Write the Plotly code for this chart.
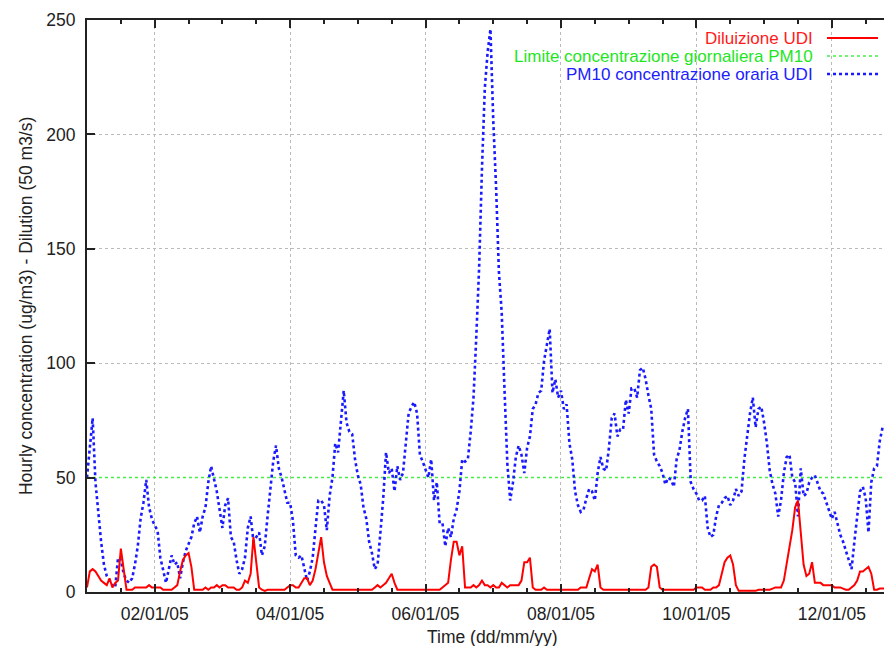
import pandas as pd
import plotly.graph_objects as go

START = "2005-01-01 00:00"
X_END = "2005-01-12 18:30"

# PM10 hourly concentration (ug/m3), one row per day
pm10_udi = [
    50, 62, 76, 48, 34, 22, 12, 7, 5, 3, 2, 15, 14, 8, 5, 4, 6, 12, 20, 32, 39, 49, 37, 32,
    29, 27, 15, 9, 4, 10, 16, 12, 13, 6, 13, 18, 21, 24, 30, 33, 26, 33, 37, 48, 55, 50, 44, 36,
    28, 38, 41, 24, 22, 14, 8, 10, 15, 28, 33, 22, 24, 26, 16, 20, 33, 46, 57, 64, 54, 50, 44, 39,
    39, 31, 16, 15, 16, 10, 5, 9, 15, 28, 40, 40, 38, 27, 42, 50, 65, 61, 75, 88, 74, 70, 69, 58,
    51, 47, 37, 32, 22, 17, 10, 12, 26, 41, 61, 52, 54, 44, 55, 49, 52, 66, 78, 81, 83, 78, 60, 57,
    53, 50, 58, 40, 48, 30, 30, 20, 28, 24, 32, 36, 44, 58, 57, 58, 70, 85, 112, 142, 185, 220, 236, 246,
    206, 177, 140, 122, 88, 56, 40, 48, 59, 64, 60, 52, 63, 68, 80, 82, 87, 88, 101, 109, 115, 87, 93, 85,
    88, 80, 82, 65, 58, 44, 38, 35, 36, 41, 45, 44, 40, 52, 59, 54, 53, 63, 76, 78, 68, 71, 71, 84,
    78, 89, 89, 85, 97, 98, 93, 86, 80, 60, 57, 55, 52, 47, 50, 49, 46, 58, 62, 70, 76, 80, 48, 45,
    43, 40, 40, 42, 28, 24, 25, 33, 38, 39, 41, 42, 38, 40, 45, 42, 44, 58, 68, 78, 85, 72, 80, 81,
    74, 65, 53, 47, 43, 33, 40, 52, 59, 60, 50, 48, 33, 54, 42, 43, 48, 50, 51, 47, 44, 43, 39, 35,
    32, 35, 30, 25, 22, 18, 15, 10, 22, 32, 44, 46, 41, 26, 48, 54, 55, 66, 72, 73,
]

# Dilution UDI (50 m3/s units), one row per day
diluizione_udi = [
    2, 9, 10, 9, 7, 5, 4, 3, 6, 2, 4, 5, 19, 11, 1, 1, 1, 2, 2, 2, 2, 2, 3, 2,
    2, 2, 2, 1, 1, 1, 1, 2, 3, 9, 14, 16, 17, 11, 1, 1, 1, 1, 2, 1, 2, 2, 3, 2,
    3, 3, 2, 2, 2, 1, 1, 2, 5, 4, 8, 24, 12, 2, 1, 0.5, 1, 1, 1, 1, 1, 1, 1, 2,
    3, 3, 2, 2, 4, 6, 6, 3, 5, 10, 17, 24, 13, 7, 4, 1, 1, 1, 1, 1, 1, 1, 1, 1,
    1, 1, 1, 1, 1, 1, 2, 3, 2, 3, 4, 6, 8, 4, 1, 1, 1, 1, 1, 1, 1, 1, 1, 1,
    1, 1, 1, 1, 1, 1, 2, 3, 4, 14, 22, 22, 16, 20, 2, 2, 2, 3, 2, 3, 5, 3, 3, 2,
    3, 2, 2, 4, 3, 2, 3, 3, 3, 3, 5, 13, 13, 15, 2, 1, 1, 1, 2, 1, 1, 1, 1, 1,
    1, 1, 1, 1, 1, 1, 1, 2, 2, 2, 6, 10, 9, 12, 2, 1, 1, 1, 1, 1, 1, 1, 1, 1,
    1, 1, 1, 1, 1, 1, 1, 2, 11, 12, 11, 2, 1, 1, 1, 1, 1, 1, 1, 1, 1, 1, 1, 1,
    2, 2, 2, 1, 1, 1, 2, 2, 3, 8, 13, 15, 16, 12, 3, 0.5, 0.5, 0.5, 0.5, 0.5, 0.5, 0.5, 1, 1,
    1, 1, 1, 1.5, 2, 2, 2, 5, 12, 19, 27, 37, 40, 26, 12, 7, 8, 13, 4, 4, 4, 3, 3, 3,
    3, 2, 2, 2, 1.5, 1, 1, 2, 3, 5, 9, 9, 10, 11, 8, 1, 1, 1.5, 1.5, 1.5,
]

LIMIT_PM10 = 50
Y_TICKS = [0, 50, 100, 150, 200, 250]

LABEL_RED = "Diluizione UDI"
LABEL_GREEN = "Limite concentrazione giornaliera PM10"
LABEL_BLUE = "PM10 concentrazione oraria UDI"
X_TITLE = "Time (dd/mm/yy)"
Y_TITLE = "Hourly concentration (ug/m3) - Dilution (50 m3/s)"

RED = "#ff0000"
GREEN = "#44f044"
BLUE = "#1a1aff"
FONT = "Liberation Sans"

t_pm = pd.date_range(START, periods=len(pm10_udi), freq="h")
t_dil = pd.date_range(START, periods=len(diluizione_udi), freq="h")
t_lim = [t_pm[0], t_pm[-1]]

fig = go.Figure()
fig.add_trace(go.Scatter(x=t_lim, y=[LIMIT_PM10, LIMIT_PM10], mode="lines",
                         line=dict(color=GREEN, width=1.5, dash="3px,3px"),
                         name=LABEL_GREEN, showlegend=False))
fig.add_trace(go.Scatter(x=t_pm, y=pm10_udi, mode="lines",
                         line=dict(color=BLUE, width=2.6, dash="dot"),
                         name=LABEL_BLUE, showlegend=False))
fig.add_trace(go.Scatter(x=t_dil, y=diluizione_udi, mode="lines",
                         line=dict(color=RED, width=2),
                         name=LABEL_RED, showlegend=False))

# legend box (hides gridlines, like gnuplot key)
fig.add_shape(type="rect", xref="paper", yref="paper", x0=0.41, x1=1.0, y0=0.893, y1=1.0,
              fillcolor="white", line=dict(width=0), layer="between")

legend_items = [(LABEL_RED, RED, "#ff1a1a", "solid", 2),
                (LABEL_GREEN, GREEN, "#1ee61e", "3px,3px", 1.5),
                (LABEL_BLUE, BLUE, "#2020ff", "dot", 2.6)]
ys = [0.9685, 0.937, 0.9055]
for (lab, lc, tc, dash, w), yy in zip(legend_items, ys):
    fig.add_annotation(xref="paper", yref="paper", x=0.912, y=yy, text=lab,
                       showarrow=False, xanchor="right", yanchor="middle", borderpad=0,
                       font=dict(family=FONT, size=17, color=tc))
    fig.add_shape(type="line", xref="paper", yref="paper", x0=0.9285, x1=0.9925,
                  y0=yy, y1=yy, line=dict(color=lc, width=w, dash=dash), layer="above")

fig.add_annotation(xref="paper", yref="paper", x=0.509, y=-0.078, text=X_TITLE,
                   showarrow=False, xanchor="center", yanchor="middle",
                   font=dict(family=FONT, size=17.5, color="#222"))
fig.add_annotation(xref="paper", yref="paper", x=-0.0765, y=0.5, text=Y_TITLE,
                   textangle=-90, showarrow=False, xanchor="center", yanchor="middle",
                   font=dict(family=FONT, size=17.5, color="#222"))

fig.update_layout(
    width=884, height=646,
    margin=dict(l=87, r=0, t=20, b=54),
    paper_bgcolor="white", plot_bgcolor="white",
    font=dict(family=FONT, size=17.5, color="#222"),
    showlegend=False,
)
fig.update_xaxes(
    type="date", range=[START, X_END],
    tick0="2005-01-02", dtick=2 * 86400000, tickformat="%d/%m/%y",
    ticks="inside", ticklen=8, tickwidth=1.5, tickcolor="#222",
    showline=True, linecolor="#222", linewidth=2, mirror="ticks",
    showgrid=True, gridcolor="#bbbbbb", griddash="dot", gridwidth=1,
    zeroline=False, ticklabelstandoff=5,
    minor=dict(dtick=12 * 3600000, ticks="inside", ticklen=4, tickcolor="#222", showgrid=False),
    tickfont=dict(family=FONT, size=17.5, color="#222"),
)
fig.update_yaxes(
    range=[0, 250], tickvals=Y_TICKS,
    ticks="inside", ticklen=8, tickwidth=1.5, tickcolor="#222",
    showline=True, linecolor="#222", linewidth=2, mirror=False,
    showgrid=True, gridcolor="#bbbbbb", griddash="dot", gridwidth=1,
    zeroline=False, ticklabelstandoff=6,
    tickfont=dict(family=FONT, size=17.5, color="#222"),
)

fig.write_html("out.html", config={"displayModeBar": False},
               post_script="document.body.style.margin='0';document.body.style.overflow='hidden';")
